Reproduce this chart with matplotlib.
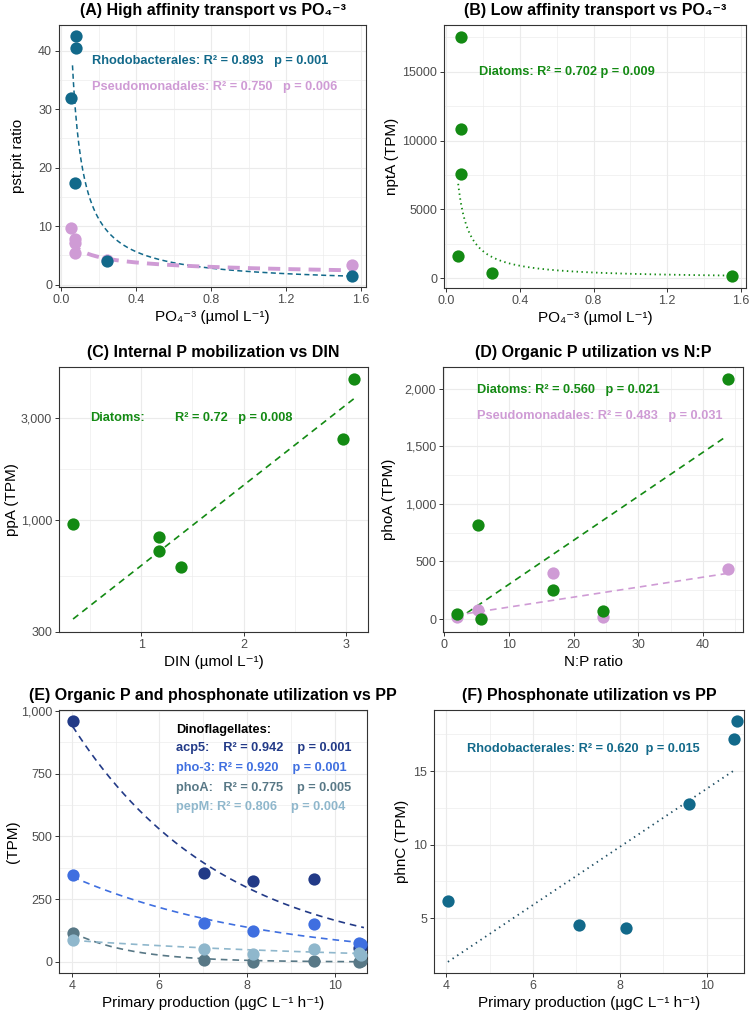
"""Six-panel phosphorus gene expression figure (A-F)."""

import numpy as np
import matplotlib

matplotlib.use("Agg")
import matplotlib.pyplot as plt
from matplotlib.ticker import FixedLocator, FuncFormatter, NullFormatter

plt.rcParams["font.family"] = ["Liberation Sans", "DejaVu Sans"]

TEAL = "#12698a"
PINK = "#cf9bd5"
GREEN = "#138a13"
ACP5 = "#223a87"
PHO3 = "#3f6fe0"
PHOA = "#587886"
PEPM = "#8fb7cc"
DOT = 78

# (A) pst:pit ratio vs PO4
a_rhodo_po4 = [0.078, 0.078, 0.052, 0.076, 0.245, 1.553]
a_rhodo_ratio = [42.5, 40.5, 32.0, 17.3, 4.0, 1.4]
a_pseudo_po4 = [0.052, 0.076, 0.076, 0.076, 0.245, 1.553]
a_pseudo_ratio = [9.7, 7.8, 7.2, 5.4, 4.2, 3.3]
a_rhodo_fit = (2.25, -1.0)      # y = a * x**b
a_pseudo_fit = (2.83, -0.32)

# (B) nptA vs PO4
b_po4 = [0.080, 0.080, 0.080, 0.062, 0.250, 1.553]
b_npta = [17500, 10800, 7600, 1640, 380, 150]
b_fit = (330, -1.11)

# (C) ppA vs DIN (log y)
c_din = [0.337, 1.17, 1.17, 1.39, 2.964, 3.075]
c_ppa = [954, 830, 714, 601, 2403, 4545]
c_fit = (2.411, 0.376)          # log10 y = c0 + c1 * x

# (D) phoA vs N:P
d_np = [2.04, 5.22, 5.72, 16.77, 24.58, 43.93]
d_diatom = [44, 813, 0, 253, 73, 2090]
d_pseudo = [20, 78, 5, 398, 20, 432]

# (E) dinoflagellate genes vs primary production
e_pp = [4.02, 7.02, 8.14, 9.54, 10.55, 10.6]
e_acp5 = [959, 356, 323, 329, 55, 60]
e_pho3 = [345, 155, 122, 153, 77, 70]
e_phoa = [116, 7, 0, 4, 0, 2]
e_pepm = [86, 53, 33, 53, 36, 28]
e_fits = {                       # y = a * exp(b * x)
    "acp5": (3007, -0.2895),
    "pho3": (837, -0.2249),
    "phoa": (2219, -0.732),
    "pepm": (153, -0.143),
}

# (F) phnC vs primary production
f_pp = [4.04, 7.06, 8.15, 9.60, 10.63, 10.69]
f_phnc = [6.14, 4.55, 4.30, 12.77, 17.16, 18.41]

W, H = 755, 1014
PO4 = "PO\u2084\u207b\u00b3"


def add_panel(fig, left, top, right, bottom):
    return fig.add_axes([left / W, 1 - bottom / H, (right - left) / W, (bottom - top) / H])


def style(ax, title, xlabel, ylabel, xlim, ylim, xmaj, xmin, ymaj, ymin,
          ylab_x, xfmt=None, yfmt=None):
    ax.set_xlim(xlim)
    ax.set_ylim(ylim)
    ax.xaxis.set_major_locator(FixedLocator(xmaj))
    ax.xaxis.set_minor_locator(FixedLocator(xmin))
    ax.yaxis.set_major_locator(FixedLocator(ymaj))
    ax.yaxis.set_minor_locator(FixedLocator(ymin))
    ax.xaxis.set_minor_formatter(NullFormatter())
    ax.yaxis.set_minor_formatter(NullFormatter())
    if xfmt:
        ax.xaxis.set_major_formatter(FuncFormatter(xfmt))
    if yfmt:
        ax.yaxis.set_major_formatter(FuncFormatter(yfmt))
    ax.grid(which="major", color="#ebebeb", linewidth=0.8)
    ax.grid(which="minor", color="#ebebeb", linewidth=0.45)
    ax.set_axisbelow(True)
    for s in ax.spines.values():
        s.set_color("#333333")
        s.set_linewidth(0.8)
    ax.tick_params(which="major", length=3, width=0.7, color="#333333",
                   labelsize=9, labelcolor="#4d4d4d", pad=2)
    ax.tick_params(which="minor", length=0)
    ax.set_title(title, fontsize=11.5, fontweight="bold", pad=7)
    ax.set_xlabel(xlabel, fontsize=11, labelpad=3)
    ax.set_ylabel(ylabel, fontsize=11)
    ax.yaxis.set_label_coords(ylab_x, 0.5)


def note(ax, x, y, s, color):
    ax.text(x, y, s, color=color, fontsize=9.2, fontweight="bold", ha="left", va="center")


comma = lambda v, _: f"{v:,.0f}"
plain = lambda v, _: f"{v:.0f}"
one_dec = lambda v, _: f"{v:.1f}"

fig = plt.figure(figsize=(W / 100, H / 100), dpi=100)

# ---- (A)
ax = add_panel(fig, 59, 25, 366, 287)
x = np.linspace(0.06, max(a_rhodo_po4), 300)
ax.plot(x, a_rhodo_fit[0] * x ** a_rhodo_fit[1], color=TEAL, lw=1.1, dashes=(3.3, 2.2))
x = np.linspace(min(a_pseudo_po4), max(a_pseudo_po4), 300)
ax.plot(x, a_pseudo_fit[0] * x ** a_pseudo_fit[1], color=PINK, lw=2.8, dashes=(3.1, 2.1))
ax.scatter(a_pseudo_po4, a_pseudo_ratio, s=DOT, color=PINK, lw=0, zorder=3)
ax.scatter(a_rhodo_po4, a_rhodo_ratio, s=DOT, color=TEAL, lw=0, zorder=4)
note(ax, 0.165, 38.2, "Rhodobacterales: R\u00b2 = 0.893   p = 0.001", TEAL)
note(ax, 0.165, 33.8, "Pseudomonadales: R\u00b2 = 0.750   p = 0.006", PINK)
style(ax, f"(A) High affinity transport vs {PO4}", f"{PO4} (\u00b5mol L\u207b\u00b9)",
      "pst:pit ratio", (-0.012, 1.627), (-0.4, 44.4),
      [0, 0.4, 0.8, 1.2, 1.6], [0.2, 0.6, 1.0, 1.4], [0, 10, 20, 30, 40],
      [5, 15, 25, 35], -0.11, xfmt=one_dec, yfmt=plain)

# ---- (B)
ax = add_panel(fig, 444, 25, 746, 288)
x = np.linspace(0.065, max(b_po4), 300)
ax.plot(x, b_fit[0] * x ** b_fit[1], color=GREEN, lw=1.3, dashes=(0.8, 1.9))
ax.scatter(b_po4, b_npta, s=DOT, color=GREEN, lw=0, zorder=3)
note(ax, 0.18, 15000, "Diatoms: R\u00b2 = 0.702 p = 0.009", GREEN)
style(ax, f"(B) Low affinity transport vs {PO4}", f"{PO4} (\u00b5mol L\u207b\u00b9)",
      "nptA (TPM)", (-0.012, 1.628), (-700, 18380),
      [0, 0.4, 0.8, 1.2, 1.6], [0.2, 0.6, 1.0, 1.4], [0, 5000, 10000, 15000],
      [2500, 7500, 12500, 17500], -0.15, xfmt=one_dec, yfmt=plain)

# ---- (C)
ax = add_panel(fig, 59, 367, 368, 632)
ax.set_yscale("log")
x = np.linspace(min(c_din), max(c_din), 100)
ax.plot(x, 10 ** (c_fit[0] + c_fit[1] * x), color=GREEN, lw=1.2, dashes=(4, 3))
ax.scatter(c_din, c_ppa, s=DOT, color=GREEN, lw=0, zorder=3)
note(ax, 0.5, 3000, "Diatoms:", GREEN)
note(ax, 1.33, 3000, "R\u00b2 = 0.72   p = 0.008", GREEN)
style(ax, "(C) Internal P mobilization vs DIN", "DIN (\u00b5mol L\u207b\u00b9)",
      "ppA (TPM)", (0.2, 3.212), (300, 5190),
      [1, 2, 3], [0.5, 1.5, 2.5], [300, 1000, 3000], [548, 1732],
      -0.13, xfmt=plain, yfmt=comma)

# ---- (D)
ax = add_panel(fig, 443, 367, 743, 632)
x = np.linspace(3.5, 43.4, 50)
k = np.polyfit(d_np, d_diatom, 1)
ax.plot(x, np.polyval(k, x), color=GREEN, lw=1.2, dashes=(4, 3))
k = np.polyfit(d_np, d_pseudo, 1)
ax.plot(x, np.polyval(k, x), color=PINK, lw=1.2, dashes=(4, 3))
ax.scatter(d_np, d_pseudo, s=DOT, color=PINK, lw=0, zorder=3)
ax.scatter(d_np, d_diatom, s=DOT, color=GREEN, lw=0, zorder=4)
note(ax, 5.0, 1994, "Diatoms: R\u00b2 = 0.560   p = 0.021", GREEN)
note(ax, 5.0, 1768, "Pseudomonadales: R\u00b2 = 0.483   p = 0.031", PINK)
style(ax, "(D) Organic P utilization vs N:P", "N:P ratio", "phoA (TPM)",
      (-0.2, 46.2), (-113, 2191), [0, 10, 20, 30, 40], [5, 15, 25, 35, 45],
      [0, 500, 1000, 1500, 2000], [250, 750, 1250, 1750], -0.155,
      xfmt=plain, yfmt=comma)

# ---- (E)
ax = add_panel(fig, 59, 710, 367, 973)
x = np.linspace(min(e_pp), 10.67, 200)
for key, col in [("acp5", ACP5), ("pho3", PHO3), ("phoa", PHOA), ("pepm", PEPM)]:
    a, b = e_fits[key]
    ax.plot(x, a * np.exp(b * x), color=col, lw=1.2, dashes=(4, 3))
for i, (vals, col) in enumerate([(e_acp5, ACP5), (e_pho3, PHO3),
                                 (e_phoa, PHOA), (e_pepm, PEPM)]):
    ax.scatter(e_pp, vals, s=DOT, color=col, lw=0, zorder=3 + i)
note(ax, 6.38, 926, "Dinoflagellates:", "black")
note(ax, 6.38, 854, "acp5:    R\u00b2 = 0.942    p = 0.001", ACP5)
note(ax, 6.38, 774, "pho-3: R\u00b2 = 0.920    p = 0.001", PHO3)
note(ax, 6.38, 695, "phoA:   R\u00b2 = 0.775    p = 0.005", PHOA)
note(ax, 6.38, 618, "pepM: R\u00b2 = 0.806    p = 0.004", PEPM)
style(ax, "(E) Organic P and phosphonate utilization vs PP",
      "Primary production (\u00b5gC L\u207b\u00b9 h\u207b\u00b9)", "(TPM)",
      (3.71, 10.74), (-44, 1004), [4, 6, 8, 10], [5, 7, 9],
      [0, 250, 500, 750, 1000], [125, 375, 625, 875], -0.125,
      xfmt=plain, yfmt=comma)

# ---- (F)
ax = add_panel(fig, 434, 710, 744, 973)
k = np.polyfit(f_pp, f_phnc, 1)
x = np.linspace(min(f_pp), 10.65, 100)
ax.plot(x, np.polyval(k, x), color="#1f4e63", lw=1.3, dashes=(0.8, 2.3))
ax.scatter(f_pp, f_phnc, s=DOT, color=TEAL, lw=0, zorder=3)
note(ax, 4.48, 16.5, "Rhodobacterales: R\u00b2 = 0.620  p = 0.015", TEAL)
style(ax, "(F) Phosphonate utilization vs PP",
      "Primary production (\u00b5gC L\u207b\u00b9 h\u207b\u00b9)", "phnC (TPM)",
      (3.72, 10.86), (1.26, 19.15), [4, 6, 8, 10], [5, 7, 9],
      [5, 10, 15], [2.5, 7.5, 12.5, 17.5], -0.08, xfmt=plain, yfmt=plain)

fig.savefig("out.png", dpi=100)
